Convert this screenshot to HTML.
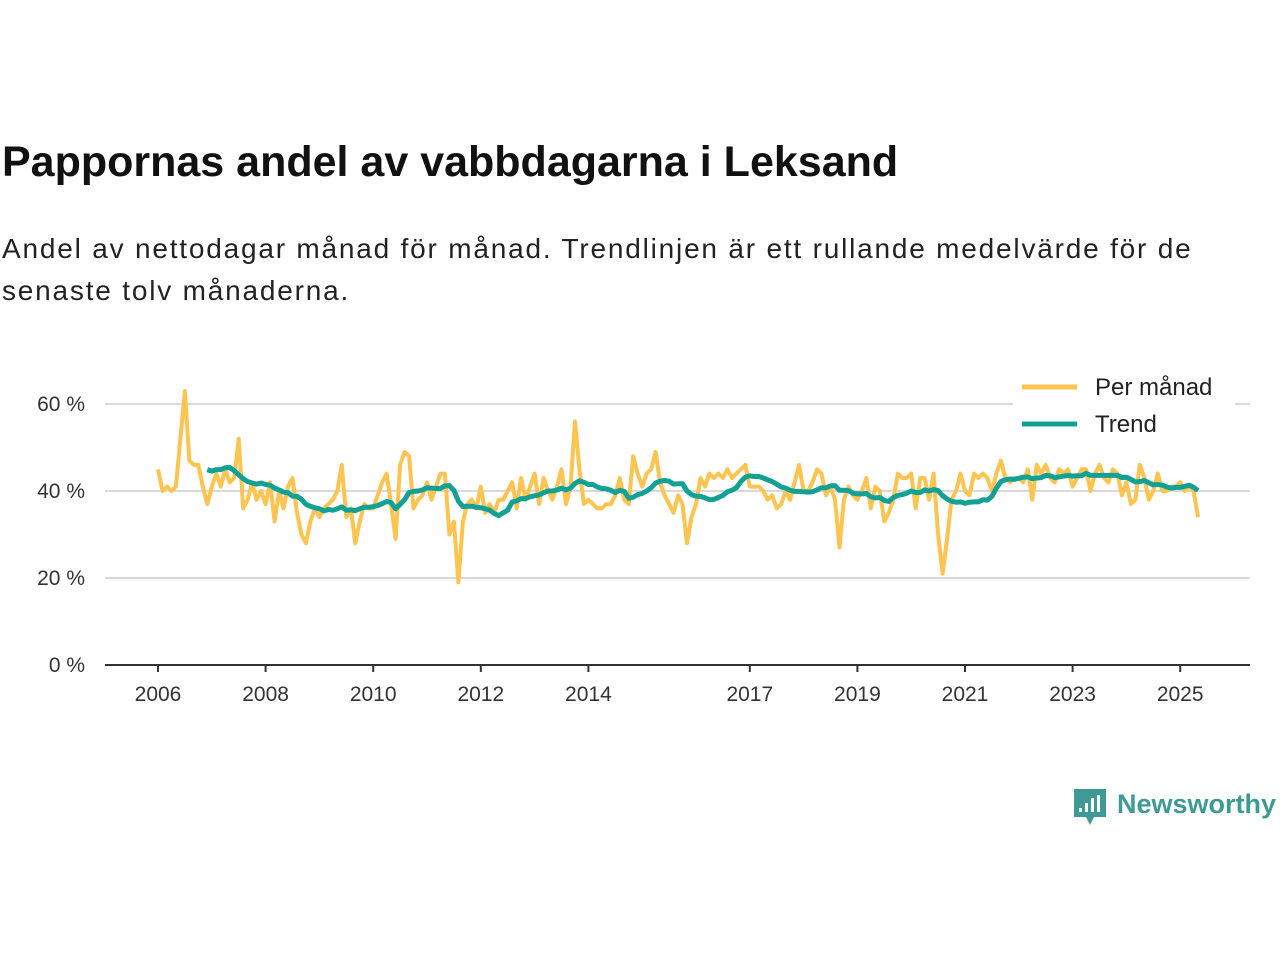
<!DOCTYPE html>
<html><head><meta charset="utf-8"><style>
body{margin:0;background:#fff;font-family:"Liberation Sans",sans-serif;}
#wrap{position:relative;width:1280px;height:960px;overflow:hidden;}
h1{position:absolute;left:2px;top:138px;margin:0;font-size:43px;font-weight:bold;color:#111;letter-spacing:0px}
p{position:absolute;left:2px;top:228px;margin:0;font-size:28px;line-height:42px;color:#222;width:1232px;letter-spacing:1.8px}
</style></head><body><div id="wrap">
<h1>Pappornas andel av vabbdagarna i Leksand</h1>
<p>Andel av nettodagar månad för månad. Trendlinjen är ett rullande medelvärde för de senaste tolv månaderna.</p>
<svg id="chart" width="1280" height="960" style="position:absolute;left:0;top:0"></svg>
</div>
<script>
const startYear = 2006;
const monthly = [
45,40,41,40,41,52,63,47,46,46,41,37,
41,44,41,45,42,43,52,36,38,42,38,40,
37,42,33,40,36,41,43,35,30,28,33,36,
34,36,37,38,40,46,34,36,28,33,37,36,
36,39,42,44,37,29,46,49,48,36,38,39,
42,38,41,44,44,30,33,19,33,37,38,36,
41,35,37,35,38,38,40,42,36,43,38,41,
44,37,43,40,38,41,45,37,41,56,45,37,
38,37,36,36,37,37,39,43,38,37,48,44,
41,44,45,49,42,39,37,35,39,37,28,34,
37,43,41,44,43,44,43,45,43,44,45,46,
41,41,41,40,38,39,36,37,40,38,42,46,
40,40,42,45,44,39,41,38,27,38,41,39,
38,40,43,36,41,40,33,35,38,44,43,43,
44,36,43,43,38,44,30,21,29,38,40,44,
40,39,44,43,44,43,40,44,47,43,42,43,
43,42,45,38,46,44,46,43,42,45,44,45,
41,43,45,45,40,44,46,43,42,45,44,39,
42,37,38,46,43,38,40,44,40,40,41,41,
42,40,41,40,34];
const yTicks = [0,20,40,60];
const xTickYears = [2006,2008,2010,2012,2014,2017,2019,2021,2023,2025];
const legendLabels = ["Per månad","Trend"];

const NS="http://www.w3.org/2000/svg", svg=document.getElementById('chart');
function X(t){return 158+(t-startYear)*53.8;}
function Y(v){return 665-v*4.35;}
function mk(tag,a,parent){const e=document.createElementNS(NS,tag);for(const k in a)e.setAttribute(k,a[k]);(parent||svg).appendChild(e);return e;}
yTicks.forEach(v=>{
  if(v>0){const g=mk('line',{x1:105,x2:1250,y1:Y(v),y2:Y(v),stroke:'#d9d9d9','stroke-width':2});
  
  }
  const t=mk('text',{x:85,y:Y(v)+7,'text-anchor':'end','font-size':21,fill:'#333','font-family':'Liberation Sans, sans-serif'});
  t.textContent=v+' %';
  
  
});
const ax=mk('line',{x1:105,x2:1250,y1:665,y2:665,stroke:'#333','stroke-width':2});


xTickYears.forEach(yr=>{
  const tk=mk('line',{x1:X(yr),x2:X(yr),y1:665,y2:672,stroke:'#333','stroke-width':2});
  
  
  const t=mk('text',{x:X(yr),y:701,'text-anchor':'middle','font-size':21,fill:'#333','font-family':'Liberation Sans, sans-serif'});
  t.textContent=yr;
  
  
});
let d='';monthly.forEach((v,i)=>{d+=(i?'L':'M')+X(startYear+i/12).toFixed(1)+','+Y(v).toFixed(1);});
const l1=mk('path',{d:d,fill:'none',stroke:'#fec44f','stroke-width':4,'stroke-linejoin':'round'});


let d2='';for(let i=11;i<monthly.length;i++){let s=0;for(let j=i-11;j<=i;j++)s+=monthly[j];d2+=(i>11?'L':'M')+X(startYear+i/12).toFixed(1)+','+Y(s/12).toFixed(1);}
const l2=mk('path',{d:d2,fill:'none',stroke:'#13a095','stroke-width':5,'stroke-linejoin':'round'});


const lb=mk('rect',{x:1013,y:368,width:222,height:72,fill:'#fff'});


[['#fec44f',387],['#13a095',424]].forEach((c,i)=>{
  const s=mk('line',{x1:1022,x2:1077,y1:c[1],y2:c[1],stroke:c[0],'stroke-width':5});
  
  
  const t=mk('text',{x:1095,y:c[1]+8,'font-size':24,fill:'#222','font-family':'Liberation Sans, sans-serif'});
  t.textContent=legendLabels[i];
  
  
});
const lg=mk('g',{});


mk('path',{d:'M1074,789 h32 v28 h-12 l-4,8 l-4,-8 h-12 z',fill:'#3d9a94'},lg);
[[1079,808,4],[1085,803,9],[1091,798,14],[1097,795,17]].forEach(b=>mk('rect',{x:b[0],y:b[1],width:3,height:b[2],fill:'#fff'},lg));
const lt=mk('text',{x:1117,y:813,'font-size':27,'font-weight':'bold',fill:'#3d9a94','font-family':'Liberation Sans, sans-serif'},lg);
lt.textContent='Newsworthy';
</script></body></html>
